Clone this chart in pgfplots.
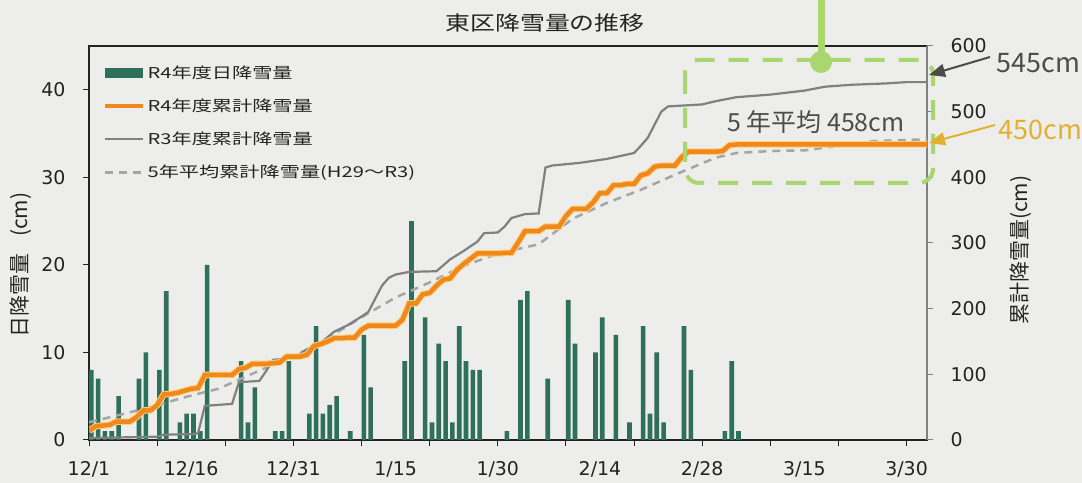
\documentclass[border=0pt]{standalone}
\usepackage{pgfplots}
\pgfplotsset{compat=1.18}
\usepackage{fontspec}
\usetikzlibrary{arrows.meta}
\setmainfont{Noto Sans CJK JP}
\newfontfamily\jpl[FakeStretch=1.35]{Noto Sans CJK JP}
\newfontfamily\jpt[FakeStretch=1.25]{Noto Sans CJK JP}
\newfontfamily\dv{DejaVu Sans}
\definecolor{bg}{RGB}{237,237,235}
\definecolor{barc}{RGB}{46,112,92}
\definecolor{orng}{RGB}{240,136,30}
\definecolor{halo}{RGB}{250,210,120}
\definecolor{rthree}{RGB}{128,128,128}
\definecolor{avg}{RGB}{165,165,165}
\definecolor{lgreen}{RGB}{170,214,112}
\definecolor{gold}{RGB}{228,176,48}
\definecolor{txt}{RGB}{35,35,35}
\pgfplotsset{
  linelegend/.style={legend image code/.code={\draw[##1] (0bp,0bp) -- (38bp,0bp);}},
  boxlegend/.style={legend image code/.code={\fill[barc] (0bp,-5bp) rectangle (38bp,5bp);}},
}
\begin{document}
\begin{tikzpicture}[x=1bp,y=1bp]
\fill[bg] (0,0) rectangle (1082,483);
\useasboundingbox (0,0) rectangle (1082,483);

% 日降雪量 (left axis)
\begin{axis}[
  at={(89bp,43bp)}, anchor=south west,
  scale only axis, width=838bp, height=394bp,
  xmin=0, xmax=123, ymin=0, ymax=45,
  axis line style={txt, line width=1.2bp},
  tick align=outside,
  xtick pos=bottom, ytick pos=left,
  xtick={0,15,...,120},
  xticklabels={12/1,12/16,12/31,1/15,1/30,2/14,2/28,3/15,3/30},
  major x tick style={draw=none},
  minor xtick={0,10,...,120},
  ytick={0,10,...,40},
  tick style={txt, line width=1bp},
  major tick length=6bp, minor tick length=6bp,
  /pgf/number format/assume math mode=true,
  ticklabel style={font=\dv\fontsize{19}{22}\selectfont, text=txt},
  xticklabel style={yshift=-12bp},
  yticklabel style={xshift=-14bp},
  ylabel={日降雪量\hspace{0.8em}(cm)},
  every axis y label/.style={at={(axis description cs:-0.082,0.444)}, rotate=90, anchor=center, font=\fontsize{21}{24}\selectfont, text=txt},
  legend cell align=left,
  legend style={at={(axis description cs:0.013,0.96)}, anchor=north west, draw=none, fill=none,
    font=\jpl\fontsize{15}{18}\selectfont, text=txt, row sep=15bp,
    nodes={inner sep=2bp}},
]
\addplot[ybar, bar width=4.6bp, bar shift=2.3bp, fill=barc, draw=none, boxlegend] coordinates {
(0,8)(1,7)(2,1)(3,1)(4,5)(7,7)(8,10)(10,8)(11,17)(13,2)(14,3)(15,3)(16,1)(17,20)
(22,9)(23,2)(24,6)(27,1)(28,1)(29,9)(32,3)(33,13)(34,3)(35,4)(36,5)(38,1)(40,12)(41,6)
(46,9)(47,25)(49,14)(50,2)(51,11)(52,9)(53,2)(54,13)(55,9)(56,8)(57,8)(61,1)(63,16)(64,17)
(67,7)(70,16)(71,11)(74,10)(75,14)(77,12)(79,2)(81,13)(82,3)(83,10)(84,2)(87,13)(88,8)
(93,1)(94,9)(95,1)
};
\addlegendentry{R4年度日降雪量}
\addlegendimage{linelegend, orng, line width=4.5bp}
\addlegendentry{R4年度累計降雪量}
\addlegendimage{linelegend, rthree, line width=2.2bp}
\addlegendentry{R3年度累計降雪量}
\addlegendimage{linelegend, avg, line width=2.5bp, dash pattern=on 8bp off 6bp}
\addlegendentry{5年平均累計降雪量(H29～R3)}
\end{axis}

% 累計降雪量 (right axis)
\begin{axis}[
  at={(89bp,43bp)}, anchor=south west,
  scale only axis, width=838bp, height=394bp,
  xmin=0, xmax=123, ymin=0, ymax=600,
  axis x line=none, axis y line*=right,
  y axis line style={rthree, line width=1.2bp},
  tick align=outside,
  ytick={0,100,...,600},
  tick style={rthree, line width=1bp},
  major tick length=6bp,
  /pgf/number format/assume math mode=true,
  yticklabel style={font=\dv\fontsize{19}{22}\selectfont, text=txt, xshift=14bp},
  ylabel={累計降雪量(cm)},
  every axis y label/.style={at={(axis description cs:1.112,0.482)}, rotate=90, anchor=center, font=\fontsize{21}{24}\selectfont, text=txt},
]
\addplot[avg, line width=2.5bp, dash pattern=on 8bp off 6bp] coordinates {
(0,27)(4,37)(9,50)(14,65)(19,78)(24,101)(29,124)(33,142)(40,187)(45,217)(50,240)(55,265)
(60,284)(66,298)(71,337)(76,361)(81,381)(86,404)(89,417)(92,430)(95,437)(100,440)(105,441)
(110,448)(115,455)(123,458)
};
\addplot[rthree, line width=2.2bp] coordinates {
(0,3)(5,4)(10,5)(11,8)(15,9)(16,10)(17,52)(21,55)(22,88)(25,90)(26,105)(27,122)(30,125)
(32,138)(34,148)(36,165)(38,175)(40,188)(41,195)(42,215)(43,235)(44,247)(45,252)(47,256)
(51,257)(53,275)(55,288)(57,302)(58,315)(60,316)(61,325)(62,338)(64,344)(66,345)(67,415)
(68,418)(72,422)(76,428)(80,437)(81,448)(82,460)(84,500)(85,508)(90,511)(92,516)(95,522)
(100,526)(105,532)(108,538)(112,541)(117,543)(120,545)(123,545)
};
\addplot[orng, line width=4.5bp, preaction={draw=halo, line width=6.5bp}] coordinates {
(0,14)(1,21)(2,22)(3,23)(4,28)(6,28)(7,35)(8,45)(9,45)(10,53)(11,70)(12,70)(13,72)(14,75)
(15,78)(16,79)(17,99)(21,99)(22,108)(23,110)(24,116)(26,116)(27,117)(28,118)(29,127)(31,127)
(32,130)(33,143)(34,146)(35,150)(36,155)(37,155)(38,156)(39,156)(40,168)(41,174)(45,174)
(46,183)(47,208)(48,208)(49,222)(50,224)(51,235)(52,244)(53,246)(54,259)(55,268)(56,276)
(57,284)(60,284)(61,285)(62,285)(63,301)(64,318)(66,318)(67,325)(69,325)(70,341)(71,352)
(73,352)(74,362)(75,376)(76,376)(77,388)(78,388)(79,390)(80,390)(81,403)(82,406)(83,416)
(84,418)(86,418)(87,431)(88,439)(92,439)(93,440)(94,449)(95,450)(123,450)
};
\end{axis}

% title and notes
\node[font=\jpt\fontsize{20}{24}\selectfont, text=txt] at (545,460) {東区降雪量の推移};
\draw[lgreen, line width=4bp, dash pattern=on 20bp off 14bp, rounded corners=14bp]
  (685,423) rectangle (933,300);
\draw[lgreen, line width=7bp] (821,483) -- (821,421);
\fill[lgreen] (821,421) circle (11);
\node[font=\fontsize{25}{28}\selectfont, text=black!70, anchor=center] at (816,361) {5 年平均 458cm};
\draw[black!70, line width=2bp, -{Triangle[length=16bp,width=13bp]}] (990,426) -- (929,408);
\node[font=\fontsize{27}{30}\selectfont, text=black!70, anchor=west] at (993,420) {545cm};
\draw[gold, line width=2bp, -{Triangle[length=16bp,width=13bp]}] (995,358) -- (929,340);
\node[font=\fontsize{27}{30}\selectfont, text=gold, anchor=west] at (995,353) {450cm};
\end{tikzpicture}
\end{document}
